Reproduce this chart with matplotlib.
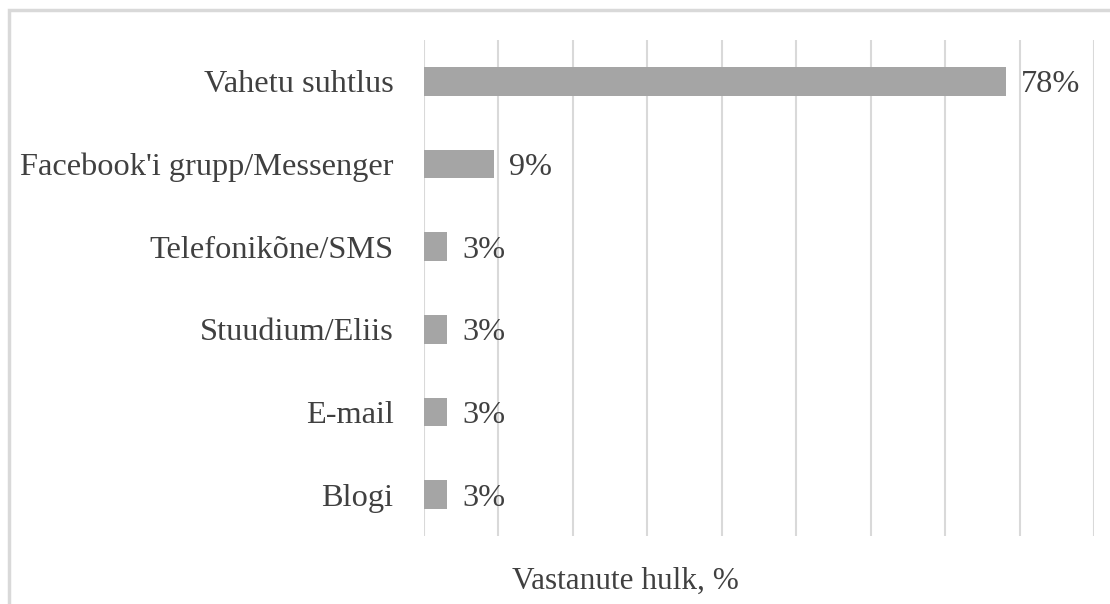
import matplotlib.pyplot as plt
import matplotlib.patches as mpatches

# Data (32 respondents)
categories = ['Vahetu suhtlus', "Facebook'i grupp/Messenger", 'Telefonikõne/SMS',
              'Stuudium/Eliis', 'E-mail', 'Blogi']
values = [78.125, 9.375, 3.125, 3.125, 3.125, 3.125]
labels = ['78%', '9%', '3%', '3%', '3%', '3%']

txtColor = '#404040'
fsz = 23.3
plt.rcParams['font.family'] = ['Liberation Serif', 'DejaVu Serif']

fig = plt.figure(figsize=(11.1, 6.04), dpi=100)
W, H = 1110., 604.

# Light gray outer border
border = mpatches.Rectangle((9/W, 1 - 10/H - 700/H), 1200/W, 700/H,
                            transform=fig.transFigure, fill=False,
                            ec='#d9d9d9', lw=2.5)
fig.patches.append(border)

ax = fig.add_axes([424/W, 1 - 536/H, (1094 - 424)/W, (536 - 40)/H])
ypos = list(range(len(categories)))[::-1]
ax.barh(ypos, values, height=0.35, color='#a5a5a5', zorder=2)
for y, v, l in zip(ypos, values, labels):
    ax.text(v + 2.0, y, l, va='center_baseline', ha='left', fontsize=fsz, color=txtColor)

ax.set_xlim(0, 90)
ax.set_ylim(-0.5, len(categories) - 0.5)
ax.set_xticks(range(0, 100, 10))
ax.set_xticklabels([])
ax.set_yticks(ypos)
ax.set_yticklabels(categories, fontsize=fsz, color=txtColor, va='center_baseline')
ax.tick_params(axis='both', length=0)
ax.tick_params(axis='y', pad=22)
ax.grid(axis='x', color='#d9d9d9', lw=1.5, zorder=0)
for s in ax.spines.values():
    s.set_visible(False)

fig.text((513 + 737) / 2 / W, 1 - 578/H, 'Vastanute hulk, %', ha='center',
         va='center_baseline', fontsize=22.5, color=txtColor)

fig.savefig('out.png', dpi=100)
